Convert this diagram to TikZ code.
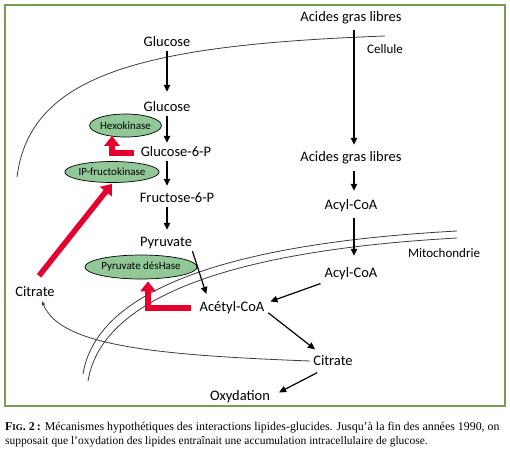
\documentclass[tikz,border=0pt]{standalone}
\usepackage{fontspec}
\setmainfont{Carlito}
\newfontfamily\capfont{Liberation Serif}
\usetikzlibrary{arrows.meta,shapes.geometric}
\definecolor{framegreen}{RGB}{118,158,78}
\definecolor{enzgreen}{RGB}{146,200,152}
\definecolor{inhred}{RGB}{230,0,45}
\definecolor{memgray}{RGB}{60,60,60}
\tikzset{
  lbl/.style={font=\fontsize{14.5}{17}\selectfont, inner sep=3pt, text height=10.5pt, text depth=1.5pt},
  small/.style={font=\fontsize{13}{15}\selectfont, inner sep=0pt},
  enz/.style={ellipse, draw=black, line width=0.7pt, fill=enzgreen, inner sep=0pt, font=\fontsize{11}{13}\selectfont},
  arr/.style={line width=1.2pt, -{Triangle[length=7pt,width=6.5pt]}},
  redarr/.style={line width=5.5pt, inhred, -{Triangle[length=10pt,width=15pt]}},
  mem/.style={line width=0.8pt, memgray},
}
\begin{document}
\begin{tikzpicture}[x=1pt,y=-1pt]
\useasboundingbox (0,0) rectangle (510,455);
\draw[framegreen, line width=2pt] (5,5) rectangle (505,406);

% membranes
\draw[mem] (17,177) .. controls (30,75) and (140,45) .. (385,36);
\draw[mem] (83,374) .. controls (95,300) and (200,245) .. (457,231);
\draw[mem] (88,381) .. controls (100,307) and (205,252) .. (457,238);

% nodes
\node[lbl] (glc1) at (167,42) {Glucose};
\node[lbl] (glc2) at (167,107) {Glucose};
\node[lbl] (g6p) at (176,152) {Glucose-6-P};
\node[lbl] (f6p) at (177,198) {Fructose-6-P};
\node[lbl] (pyr) at (166,242) {Pyruvate};
\node[lbl] (acetyl) at (232,307) {Acétyl-CoA};
\node[lbl] (cit2) at (333,361) {Citrate};
\node[lbl] (oxy) at (240,396) {Oxydation};
\node[lbl] (cit1) at (35,292) {Citrate};
\node[lbl] (agl1) at (351,17) {Acides gras libres};
\node[lbl] (agl2) at (351,157) {Acides gras libres};
\node[lbl] (acyl1) at (351,205) {Acyl-CoA};
\node[lbl] (acyl2) at (351,273) {Acyl-CoA};
\node[small] (cell) at (385,49) {Cellule};
\node[small] (mito) at (444,253) {Mitochondrie};

\node[enz, minimum width=61pt, minimum height=23pt] (hexo) at (125.5,125.5) {Hexokinase};
\node[enz, minimum width=87pt, minimum height=21pt] (ipf) at (112,172) {IP-fructokinase};
\node[enz, minimum width=92pt, minimum height=24pt] (pdh) at (141,267) {Pyruvate désHase};

% citrate return curve
\draw[line width=0.8pt, memgray, -{Triangle[length=4pt,width=3.5pt]}] (cit2.west) .. controls (150,355) and (60,345) .. ([xshift=7pt]cit1.south);

% black arrows
\draw[arr, shorten >=6pt] (glc1.south) -- (glc2.north);
\draw[arr] (glc2.south) -- (glc2.south |- g6p.north);
\draw[arr, shorten >=3pt] (g6p.south -| glc2) -- (f6p.north -| glc2);
\draw[arr, shorten >=3pt] (f6p.south -| glc2) -- (pyr.north -| glc2);
\draw[arr, shorten <=4pt, shorten >=3pt] ([xshift=3pt]agl1.south) -- ([xshift=3pt]agl2.north);
\draw[arr, shorten <=5pt, shorten >=5pt] ([xshift=3pt]agl2.south) -- ([xshift=3pt]acyl1.north);
\draw[arr, shorten <=4pt, shorten >=8pt] ([xshift=3pt]acyl1.south) -- ([xshift=3pt]acyl2.north);
\draw[arr, shorten <=1pt, shorten >=4pt] ([xshift=-3pt,yshift=1pt]pyr.south east) -- ([xshift=11pt]acetyl.north west);
\draw[arr, shorten <=1pt, shorten >=1pt] ([yshift=-1pt]acyl2.south west) -- ([xshift=2pt,yshift=-4pt]acetyl.north east);
\draw[arr, shorten <=1pt, shorten >=4pt] ([yshift=4pt]acetyl.south east) -- ([xshift=8pt]cit2.north west);
\draw[arr, shorten <=1pt, shorten >=1pt] ([xshift=8pt,yshift=-2pt]cit2.south west) -- ([xshift=5pt,yshift=-6pt]oxy.north east);

% red inhibition arrows
\draw[redarr, shorten <=4pt] ([yshift=-1pt]g6p.west) -| ([xshift=-13.5pt,yshift=1.5pt]hexo.south);
\draw[redarr, shorten <=5pt] ([yshift=-1pt]acetyl.west) -| ([xshift=7pt,yshift=-2pt]pdh.south);
\draw[redarr] ([shift={(4pt,7pt)}]cit1.north) -- ([yshift=-1pt]ipf.south);

% caption
\node[anchor=base west, inner sep=0pt, font=\capfont\fontsize{11.9}{14}\selectfont] (cap1) at (5,430) {\textbf{F{\fontsize{9}{10}\selectfont IG}. 2\,:} Mécanismes hypothétiques des interactions lipides-glucides. Jusqu’à la fin des années 1990, on};
\node[anchor=base west, inner sep=0pt, font=\capfont\fontsize{11.5}{14}\selectfont] (cap2) at (5,444) {supposait que l’oxydation des lipides entraînait une accumulation intracellulaire de glucose.};
\end{tikzpicture}
\end{document}
